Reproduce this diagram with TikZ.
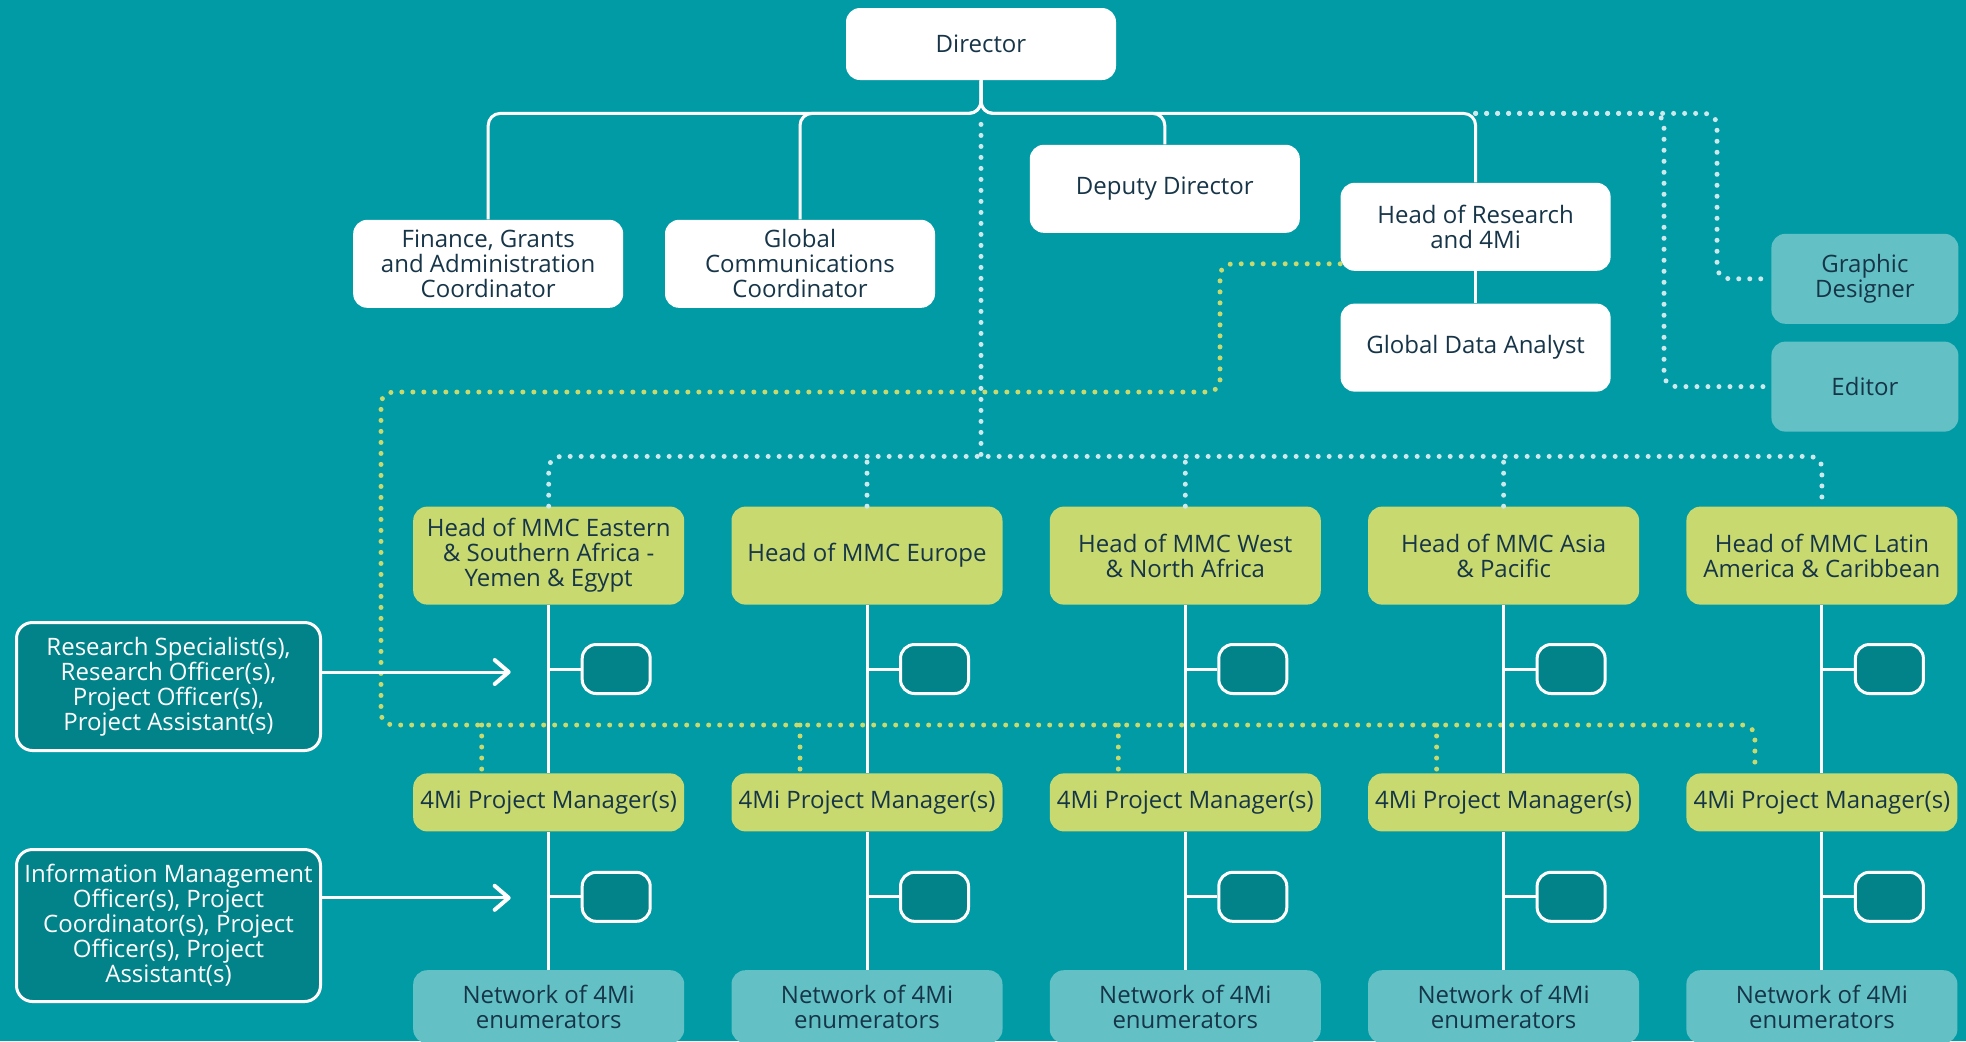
\documentclass[tikz,border=0pt]{standalone}
\usepackage{fontspec}
\setmainfont{Open Sans}
\usepackage{xcolor}
\usepackage{tikz}
\usetikzlibrary{arrows.meta,positioning,calc}

\definecolor{mmcteal}{HTML}{019BA6}
\definecolor{mmcdark}{HTML}{02838A}
\definecolor{mmclight}{HTML}{63C1C6}
\definecolor{mmclime}{HTML}{C8D96F}
\definecolor{mmcnavy}{HTML}{173548}
\definecolor{mmcdot}{HTML}{CDE9EC}

\begin{document}
\begin{tikzpicture}[
    x=0.5pt, y=-0.5pt,
    font=\fontsize{12}{12.5}\selectfont,
    staff/.style={rectangle, rounded corners=7pt, fill=white, text=mmcnavy, minimum width=135pt, minimum height=44pt, align=center, inner sep=2pt},
    support/.style={staff, fill=mmclight, minimum width=93.5pt, minimum height=45pt},
    head/.style={staff, fill=mmclime, minimum width=135.5pt, minimum height=49pt},
    manager/.style={head, minimum height=29pt},
    network/.style={head, fill=mmclight, minimum height=36.5pt},
    slot/.style={rectangle, rounded corners=7pt, fill=mmcdark, draw=white, line width=1.5pt, minimum width=34pt, minimum height=24.5pt},
    roles/.style={rectangle, rounded corners=8pt, fill=mmcdark, draw=white, line width=1.5pt, text=white, minimum width=152pt, align=center, inner sep=2pt},
    link/.style={white, line width=1.5pt},
    wdots/.style={draw=mmcdot, line width=2.5pt, line cap=round, dash pattern=on 0pt off 5.5pt, rounded corners=6pt},
    ydots/.style={wdots, draw=mmclime},
]
\useasboundingbox (0,0) rectangle (1966,1041);
\fill[mmcteal] (0,0) rectangle (1966,1041);

% Director and central team
\node[staff, minimum height=36pt] (director) at (981,44) {Director};
\node[staff, below left=69.5pt and 111pt of director] (finance) {Finance, Grants\\and Administration\\Coordinator};
\node[staff, right=20.5pt of finance] (comms) {Global\\Communications\\Coordinator};
\node[staff, right=47pt of comms, yshift=37.5pt] (deputy) {Deputy Director};
\node[staff, right=20pt of deputy, yshift=-19pt] (research) {Head of Research\\and 4Mi};
\node[staff, below=16pt of research] (analyst) {Global Data Analyst};
\node[support, right=80pt of research, yshift=-26pt] (designer) {Graphic\\Designer};
\node[support, below=8.5pt of designer] (editor) {Editor};

% Regional heads
\node[head, below=99pt of finance, xshift=30.25pt] (eastafrica) {Head of MMC Eastern\\\& Southern Africa -\\Yemen \& Egypt};
\node[head, right=23.25pt of eastafrica] (europe) {Head of MMC Europe};
\node[head, right=23.25pt of europe] (westafrica) {Head of MMC West\\\& North Africa};
\node[head, right=23.25pt of westafrica] (asia) {Head of MMC Asia\\\& Pacific};
\node[head, right=23.25pt of asia] (latam) {Head of MMC Latin\\America \& Caribbean};

% Project managers
\node[manager, below=84pt of eastafrica] (pmeast) {4Mi Project Manager(s)};
\node[manager, below=84pt of europe] (pmeurope) {4Mi Project Manager(s)};
\node[manager, below=84pt of westafrica] (pmwest) {4Mi Project Manager(s)};
\node[manager, below=84pt of asia] (pmasia) {4Mi Project Manager(s)};
\node[manager, below=84pt of latam] (pmlatam) {4Mi Project Manager(s)};

% Enumerator networks
\node[network, below=69pt of pmeast] (neteast) {Network of 4Mi\\enumerators};
\node[network, below=69pt of pmeurope] (neteurope) {Network of 4Mi\\enumerators};
\node[network, below=69pt of pmwest] (netwest) {Network of 4Mi\\enumerators};
\node[network, below=69pt of pmasia] (netasia) {Network of 4Mi\\enumerators};
\node[network, below=69pt of pmlatam] (netlatam) {Network of 4Mi\\enumerators};

% Staff slots
\node[slot] (easttop) at ($(eastafrica.south)+(67.5,64)$) {};
\node[slot] (europetop) at ($(europe.south)+(67.5,64)$) {};
\node[slot] (westtop) at ($(westafrica.south)+(67.5,64)$) {};
\node[slot] (asiatop) at ($(asia.south)+(67.5,64)$) {};
\node[slot] (latamtop) at ($(latam.south)+(67.5,64)$) {};
\node[slot] (eastlow) at ($(pmeast.south)+(67.5,65)$) {};
\node[slot] (europelow) at ($(pmeurope.south)+(67.5,65)$) {};
\node[slot] (westlow) at ($(pmwest.south)+(67.5,65)$) {};
\node[slot] (asialow) at ($(pmasia.south)+(67.5,65)$) {};
\node[slot] (latamlow) at ($(pmlatam.south)+(67.5,65)$) {};

% Role legends
\node[roles, minimum height=64pt] (specialists) at (168.5,686.5) {Research Specialist(s),\\Research Officer(s),\\Project Officer(s),\\Project Assistant(s)};
\node[roles, minimum height=76pt] (infomgmt) at (168.5,925.5) {Information Management\\Officer(s), Project\\Coordinator(s), Project\\Officer(s), Project\\Assistant(s)};

% Helper points
\coordinate (fork) at ($(director.south)+(0,33)$);
\coordinate (rcorner) at (fork -| research.north);
\coordinate (hubbar) at ($(director.south)+(0,376)$);
\coordinate (designerbend) at ([xshift=-27pt]designer.west);
\coordinate (editorbend) at ([xshift=-53.5pt]editor.west);
\coordinate (ystart) at ([yshift=-18.5pt]research.west);
\coordinate (ystep) at (1220,392);
\coordinate (yleft) at (381,725);
\coordinate (dropeast) at ([xshift=-33.5pt]pmeast.north);
\coordinate (dropeurope) at ([xshift=-33.5pt]pmeurope.north);
\coordinate (dropwest) at ([xshift=-33.5pt]pmwest.north);
\coordinate (dropasia) at ([xshift=-33.5pt]pmasia.north);
\coordinate (droplatam) at ([xshift=-33.5pt]pmlatam.north);
\coordinate (eastarrow) at ($(eastafrica.south)+(-38,67)$);
\coordinate (eastarrowb) at ($(pmeast.south)+(-38,66)$);

% Dotted lines
\draw[wdots] ($(fork)+(0,11)$) -- (hubbar);
\draw[wdots] (eastafrica.north) |- (hubbar) -| (latam.north);
\draw[wdots] (europe.north) -- (europe.north |- hubbar);
\draw[wdots] (westafrica.north) -- (westafrica.north |- hubbar);
\draw[wdots] (asia.north) -- (asia.north |- hubbar);
\draw[wdots] (rcorner) -| (designerbend) -- (designer.west);
\draw[wdots] (rcorner) -| (editorbend) -- (editor.west);
\draw[ydots] (ystart) -| (ystep) -| (yleft) -| (droplatam);
\draw[ydots] (dropeast |- yleft) -- (dropeast);
\draw[ydots] (dropeurope |- yleft) -- (dropeurope);
\draw[ydots] (dropwest |- yleft) -- (dropwest);
\draw[ydots] (dropasia |- yleft) -- (dropasia);

% Solid lines
\draw[link, rounded corners=6pt] (director.south) -- (fork) -| (finance.north);
\draw[link, rounded corners=6pt] (director.south) -- (fork) -| (comms.north);
\draw[link, rounded corners=6pt] (director.south) -- (fork) -| (deputy.north);
\draw[link, rounded corners=6pt] (director.south) -- (fork) -| (research.north);
\draw[link] (research) -- (analyst);
\draw[link] (eastafrica) -- (pmeast);
\draw[link] (europe) -- (pmeurope);
\draw[link] (westafrica) -- (pmwest);
\draw[link] (asia) -- (pmasia);
\draw[link] (latam) -- (pmlatam);
\draw[link] (pmeast) -- (neteast);
\draw[link] (pmeurope) -- (neteurope);
\draw[link] (pmwest) -- (netwest);
\draw[link] (pmasia) -- (netasia);
\draw[link] (pmlatam) -- (netlatam);
\draw[link] (easttop) -- (easttop -| eastafrica.south);
\draw[link] (europetop) -- (europetop -| europe.south);
\draw[link] (westtop) -- (westtop -| westafrica.south);
\draw[link] (asiatop) -- (asiatop -| asia.south);
\draw[link] (latamtop) -- (latamtop -| latam.south);
\draw[link] (eastlow) -- (eastlow -| pmeast.south);
\draw[link] (europelow) -- (europelow -| pmeurope.south);
\draw[link] (westlow) -- (westlow -| pmwest.south);
\draw[link] (asialow) -- (asialow -| pmasia.south);
\draw[link] (latamlow) -- (latamlow -| pmlatam.south);

% Arrows
\draw[link, -{Straight Barb[length=7pt, width=12pt, line width=2pt, round]}] (specialists.east |- eastarrow) -- (eastarrow);
\draw[link, -{Straight Barb[length=7pt, width=12pt, line width=2pt, round]}] (infomgmt.east |- eastarrowb) -- (eastarrowb);

\end{tikzpicture}
\end{document}
